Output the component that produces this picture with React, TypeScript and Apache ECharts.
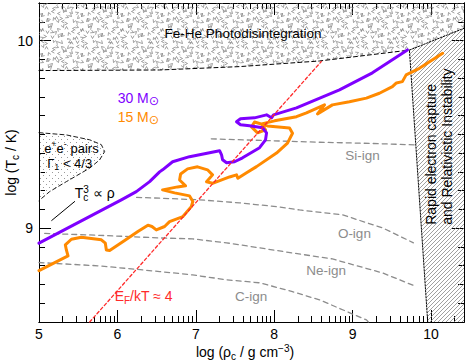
import React, { useEffect, useRef } from "react";
import * as echarts from "echarts";

const FONT = '"Liberation Sans", Arial, Helvetica, sans-serif';

const X_RANGE = [5, 10.42];
const Y_RANGE = [8.5, 10.2];
const X_MAJOR = [5, 6, 7, 8, 9, 10];
const X_LABELS = [5, 6, 7, 8, 9, 10];
const Y_MAJOR = [9, 10];
const Y_LABELS = [9, 10];
const Y_MINOR = [8.5, 8.6, 8.7, 8.8, 8.9, 9.1, 9.2, 9.3, 9.4, 9.5, 9.6, 9.7, 9.8, 9.9, 10.1, 10.2];
const LOG_MANTISSA = [2, 3, 4, 5, 6, 7, 8, 9];
const X_MINOR = X_MAJOR.flatMap((d) => LOG_MANTISSA.map((k) => d + Math.log10(k))).filter((v) => v < X_RANGE[1]);

// 30 Msun central track (log rho_c, log T_c)
const TRACK_30: number[][] = [
  [5.0, 8.92], [6.05, 9.151], [6.241, 9.195], [6.411, 9.248], [6.538, 9.3], [6.576, 9.311],
  [6.704, 9.354], [6.92, 9.381], [7.175, 9.402], [7.303, 9.413], [7.328, 9.391], [7.341, 9.365],
  [7.392, 9.349], [7.494, 9.354], [7.596, 9.375], [7.813, 9.429], [7.889, 9.471], [7.902, 9.508],
  [7.851, 9.535], [7.685, 9.546], [7.57, 9.551], [7.519, 9.567], [7.57, 9.583], [7.748, 9.588],
  [7.902, 9.604], [7.965, 9.588], [7.991, 9.604], [8.284, 9.641], [8.832, 9.737], [9.252, 9.828],
  [9.698, 9.95],
];

// 15 Msun central track
const TRACK_15: number[][] = [
  [5.0, 8.774], [5.37, 8.852], [5.349, 8.884], [5.336, 8.911], [5.413, 8.941], [5.54, 8.952],
  [5.795, 8.938], [5.846, 8.92], [5.859, 8.884], [5.901, 8.881], [6.092, 8.934], [6.261, 8.982],
  [6.389, 9.016], [6.44, 9.009], [6.496, 8.991], [6.602, 9.009], [6.665, 9.035], [6.835, 9.062],
  [6.942, 9.115], [6.962, 9.142], [6.92, 9.172], [6.729, 9.188], [6.576, 9.204], [6.767, 9.22],
  [6.869, 9.226], [6.793, 9.257], [6.806, 9.289], [6.895, 9.316], [7.022, 9.327], [7.149, 9.311],
  [7.213, 9.284], [7.137, 9.247], [7.213, 9.239], [7.43, 9.273], [7.519, 9.284], [7.536, 9.266],
  [7.647, 9.295], [7.774, 9.328], [8.029, 9.4], [8.169, 9.453], [8.233, 9.506], [8.195, 9.534],
  [7.914, 9.545], [7.749, 9.566], [7.71, 9.54], [7.787, 9.508], [7.889, 9.524], [7.838, 9.556],
  [8.004, 9.572], [8.284, 9.594], [8.411, 9.614], [8.641, 9.657], [8.552, 9.609], [8.742, 9.657],
  [8.959, 9.674], [9.175, 9.693], [9.341, 9.719], [9.507, 9.754], [9.558, 9.774], [9.634, 9.781],
  [9.682, 9.817], [9.851, 9.852], [10.148, 9.932],
];

// ignition curves
const SI_IGN: number[][] = [[7.197, 9.476], [8.577, 9.458], [9.213, 9.452], [9.788, 9.444]];
const O_IGN: number[][] = [
  [6.245, 9.164], [6.538, 9.16], [7.048, 9.151], [7.557, 9.135], [8.067, 9.113], [8.322, 9.097],
  [8.87, 9.071], [9.379, 9.002], [9.775, 8.922],
];
const NE_IGN: number[][] = [
  [5.073, 8.972], [5.773, 8.962], [6.538, 8.948], [6.958, 8.943], [7.392, 8.922], [7.813, 8.895],
  [8.232, 8.868], [8.742, 8.836], [9.379, 8.762], [9.787, 8.693],
];
const C_IGN: number[][] = [
  [5.0, 8.817], [5.773, 8.799], [6.538, 8.769], [6.958, 8.751], [7.392, 8.725], [7.813, 8.709],
  [8.232, 8.662], [8.577, 8.618], [9.176, 8.511], [9.2, 8.5],
];

// E_F/kT ~ 4 line and Tc^3 ~ rho guide
const DEGENERACY: number[][] = [[5.646, 8.5], [8.6, 9.888]];
const TC3_GUIDE: number[][] = [[5.162, 9.041], [5.455, 9.142]];

// region boundaries
const PHOTO_BOUNDARY: number[][] = [[5.0, 9.84], [6.538, 9.843], [7.557, 9.861], [8.577, 9.891], [9.724, 9.949]];
const EC_BOUNDARY: number[][] = [[9.957, 8.5], [9.724, 9.949], [10.42, 10.065]];
const PAIR_BOUNDARY: number[][] = [
  [5.0, 9.509], [5.349, 9.497], [5.646, 9.471], [5.795, 9.445], [5.837, 9.408], [5.773, 9.364],
  [5.646, 9.32], [5.349, 9.248], [5.136, 9.195], [5.0, 9.147],
];
const PHOTO_REGION = [...PHOTO_BOUNDARY, [10.42, 10.065], [10.42, 10.2], [5.0, 10.2]];
const EC_REGION = [...EC_BOUNDARY, [10.42, 8.5]];

const PURPLE = "#7f00ff";
const ORANGE = "#ff8a00";
const RED = "#ff2a2a";
const GRAY = "#8c8c8c";

type Label = { text: string; x: number; y: number; color: string; size: number; align: string; rot?: number };
const LABELS: Label[] = [
  { text: "Fe-He Photodisintegration", x: 7.602, y: 10.039, color: "#000", size: 13.5, align: "center" },
  { text: "Rapid electron capture", x: 10.004, y: 9.018, color: "#000", size: 14, align: "left", rot: Math.PI / 2 },
  { text: "and Relativistic Instability", x: 10.208, y: 9.018, color: "#000", size: 14, align: "left", rot: Math.PI / 2 },
  { text: "30 M{sun|⊙}", x: 6.003, y: 9.694, color: PURPLE, size: 14, align: "left" },
  { text: "15 M{sun|⊙}", x: 6.003, y: 9.593, color: ORANGE, size: 14, align: "left" },
  { text: "Si-ign", x: 9.126, y: 9.387, color: GRAY, size: 13.5, align: "center" },
  { text: "O-ign", x: 9.022, y: 8.97, color: GRAY, size: 13.5, align: "center" },
  { text: "Ne-ign", x: 8.662, y: 8.774, color: GRAY, size: 13.5, align: "center" },
  { text: "C-ign", x: 7.706, y: 8.635, color: GRAY, size: 13.5, align: "center" },
  { text: "E{sub|F}/kT ≈ 4", x: 5.965, y: 8.636, color: RED, size: 14, align: "left" },
  { text: "e{sup|+}e{sup|-} pairs", x: 5.413, y: 9.426, color: "#000", size: 13, align: "center" },
  { text: "Γ{sub|1} < 4/3", x: 5.391, y: 9.346, color: "#000", size: 13, align: "center" },
  { text: "T{subz|c}{sup|3} ∝ ρ", x: 5.455, y: 9.186, color: "#000", size: 14, align: "left" },
];

function richFor(size: number, color: string) {
  const s = Math.round(size * 0.7);
  return {
    sub: { fontSize: s, lineHeight: s, verticalAlign: "bottom", fill: color, fontFamily: FONT },
    subz: { fontSize: s, lineHeight: s, verticalAlign: "bottom", fill: color, fontFamily: FONT, width: 0.1 },
    sup: { fontSize: s, lineHeight: s, verticalAlign: "top", fill: color, fontFamily: FONT },
    sun: { fontSize: size * 0.9, lineHeight: size * 0.9, verticalAlign: "bottom", fill: color, fontFamily: "DejaVu Sans" },
  };
}

function makeTexture(w: number, h: number, draw: (g: CanvasRenderingContext2D) => void) {
  const c = document.createElement("canvas");
  c.width = w;
  c.height = h;
  const g = c.getContext("2d")!;
  draw(g);
  return { image: c.toDataURL(), repeat: "repeat", imageWidth: w, imageHeight: h };
}

export default function App() {
  const ref = useRef<HTMLDivElement>(null);
  useEffect(() => {
    document.body.style.margin = "0";
    if (!ref.current) return;
    const chart = echarts.init(ref.current, null, { renderer: "svg" });

    // chevron texture for the photodisintegration zone
    const vTex = makeTexture(40, 40, (g) => {
      g.strokeStyle = "#7a7a7a";
      g.lineWidth = 0.7;
      for (let i = 0; i < 8; i++)
        for (let j = 0; j < 8; j++) {
          const k = (i * 3 + j * 5 + i * j * 2) % 8;
          const ang = (k * Math.PI) / 4 + 0.4 * ((i * 2 + j) % 3);
          const cx = i * 5 + 2.5 + ((i + 2 * j) % 3) - 1;
          const cy = j * 5 + 2.5 + ((2 * i + j) % 3) - 1;
          const L = 3.3, sp = 0.5;
          g.beginPath();
          g.moveTo(cx + L * Math.cos(ang - sp), cy + L * Math.sin(ang - sp));
          g.lineTo(cx, cy);
          g.lineTo(cx + L * Math.cos(ang + sp), cy + L * Math.sin(ang + sp));
          g.stroke();
        }
    });
    const dotTex = makeTexture(6, 6, (g) => {
      g.fillStyle = "#9a9a9a";
      g.fillRect(1, 1, 1, 1);
      g.fillRect(4, 4, 1, 1);
    });
    const hatchTex = makeTexture(4, 4, (g) => {
      g.strokeStyle = "#888";
      g.lineWidth = 0.8;
      g.beginPath();
      g.moveTo(-1, 5); g.lineTo(5, -1);
      g.moveTo(-1, 1); g.lineTo(1, -1);
      g.moveTo(3, 5); g.lineTo(5, 3);
      g.stroke();
    });

    const [xmin, xmax] = X_RANGE;
    const [ymin, ymax] = Y_RANGE;
    const tickStyle = { color: "#000", width: 1 };
    const lineAxis = { show: true, onZero: false, lineStyle: { color: "#000", width: 1 } };
    const labelStyle = { color: "#000", fontSize: 14, fontFamily: FONT };
    const nameRich = {
      sub: { fontSize: 10, lineHeight: 10, verticalAlign: "bottom", fontFamily: FONT, color: "#000" },
      sup: { fontSize: 10, lineHeight: 10, verticalAlign: "top", fontFamily: FONT, color: "#000" },
    };

    const xAx = (gridIndex: number, position: string, ticks: number[], len: number, labels?: number[], name?: any) => ({
      type: "value", gridIndex, position, min: xmin, max: xmax,
      axisLine: lineAxis,
      axisTick: { show: true, inside: true, length: len, customValues: ticks, lineStyle: tickStyle },
      axisLabel: labels ? { show: true, customValues: labels, margin: 5, ...labelStyle } : { show: false },
      splitLine: { show: false },
      ...(name || {}),
    });
    const yAx = (gridIndex: number, position: string, ticks: number[], len: number, labels?: number[], name?: any) => ({
      type: "value", gridIndex, position, min: ymin, max: ymax,
      axisLine: lineAxis,
      axisTick: { show: true, inside: true, length: len, customValues: ticks, lineStyle: tickStyle },
      axisLabel: labels ? { show: true, customValues: labels, margin: 6, ...labelStyle } : { show: false },
      splitLine: { show: false },
      ...(name || {}),
    });

    const lineSeries = (data: number[][], color: string, width: number, type: any, z = 3) => ({
      type: "line", xAxisIndex: 0, yAxisIndex: 0, data, showSymbol: false, symbol: "none", silent: true,
      z, lineStyle: { color, width, type, cap: "round", join: "round" },
    });
    const regionSeries = (pts: number[][], fill: any) => ({
      type: "custom", xAxisIndex: 0, yAxisIndex: 0, silent: true, z: 1,
      data: [pts[0]],
      renderItem: (_p: any, api: any) => ({
        type: "polygon",
        shape: { points: pts.map((p) => api.coord(p)) },
        style: { fill, stroke: null },
      }),
    });

    const grid = { left: 39, right: 4, top: 3, bottom: 40, containLabel: false, outerBoundsMode: "none" };
    chart.setOption({
      animation: false,
      backgroundColor: "#fff",
      grid: [grid, { ...grid }],
      xAxis: [
        xAx(0, "bottom", X_MAJOR, 12, X_LABELS, {
          name: "log (ρ{sub|c} / g cm{sup|−3})", nameLocation: "middle", nameGap: 21, nameMoveOverlap: false,
          nameTextStyle: { fontSize: 14, fontFamily: FONT, color: "#000", lineHeight: 18, rich: nameRich, padding: [0, 13, 0, 0] },
        }),
        xAx(0, "top", X_MAJOR, 12),
        xAx(1, "bottom", X_MINOR, 6),
        xAx(1, "top", X_MINOR, 6),
      ],
      yAxis: [
        yAx(0, "left", Y_MAJOR, 12, Y_LABELS, {
          name: "log (T{sub|c} / K)", nameLocation: "middle", nameGap: 19, nameMoveOverlap: false,
          nameTextStyle: { fontSize: 14, fontFamily: FONT, color: "#000", lineHeight: 18, rich: nameRich },
        }),
        yAx(0, "right", Y_MAJOR, 12),
        yAx(1, "left", Y_MINOR, 6),
        yAx(1, "right", Y_MINOR, 6),
      ],
      series: [
        regionSeries(PHOTO_REGION, vTex),
        regionSeries(EC_REGION, hatchTex),
        regionSeries(PAIR_BOUNDARY, dotTex),
        lineSeries(PHOTO_BOUNDARY, "#000", 1, [4, 3]),
        lineSeries(EC_BOUNDARY, "#000", 1, [1.5, 1.5]),
        lineSeries(PAIR_BOUNDARY, "#000", 0.9, [4, 3]),
        lineSeries(SI_IGN, GRAY, 1.3, [5, 4]),
        lineSeries(O_IGN, GRAY, 1.3, [5, 4]),
        lineSeries(NE_IGN, GRAY, 1.3, [5, 4]),
        lineSeries(C_IGN, GRAY, 1.3, [5, 4]),
        lineSeries(TC3_GUIDE, "#000", 1, "solid"),
        lineSeries(TRACK_15, ORANGE, 3, "solid", 4),
        lineSeries(TRACK_30, PURPLE, 3, "solid", 5),
        lineSeries(DEGENERACY, RED, 1.3, [3, 2.5], 6),
        {
          type: "custom", xAxisIndex: 0, yAxisIndex: 0, silent: true, z: 10,
          data: LABELS.map((l) => [l.x, l.y]),
          renderItem: (params: any, api: any) => {
            const L = LABELS[params.dataIndex];
            const p = api.coord([api.value(0), api.value(1)]);
            return {
              type: "text", x: p[0], y: p[1], rotation: L.rot || 0,
              style: {
                text: L.text, fill: L.color, fontSize: L.size, fontFamily: FONT, lineHeight: Math.round(L.size * 1.3),
                align: L.align, verticalAlign: "middle", rich: richFor(L.size, L.color),
              },
            };
          },
        },
      ],
    });
    return () => chart.dispose();
  }, []);
  return <div ref={ref} style={{ width: 468, height: 362 }} />;
}
